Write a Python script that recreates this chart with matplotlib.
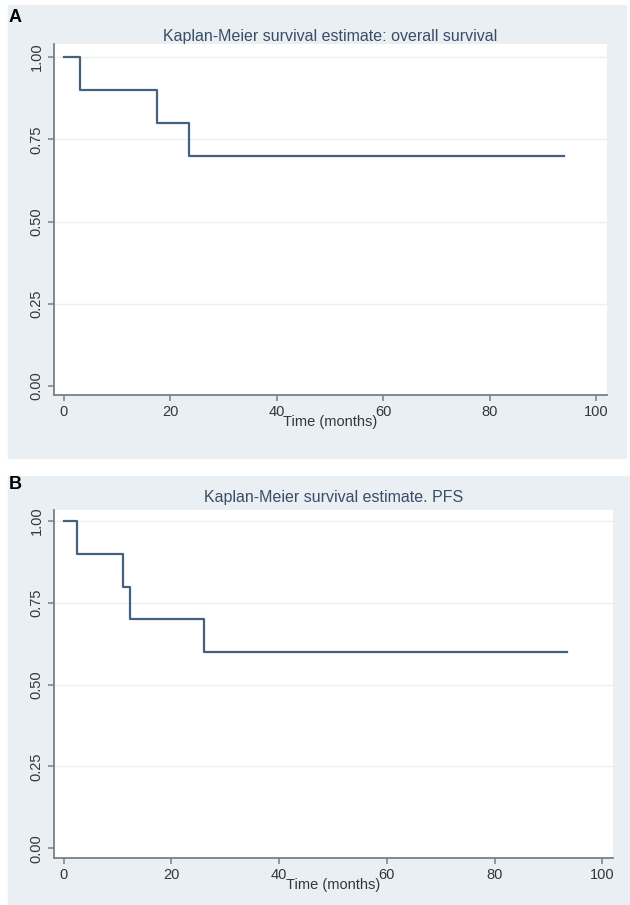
import matplotlib.pyplot as plt
from matplotlib.patches import Rectangle

# datos
os_time = [0, 3.0, 17.5, 23.5, 94.0]
os_surv = [1.0, 0.9, 0.8, 0.7, 0.7]

pfs_time = [0, 2.5, 11.0, 12.3, 26.0, 93.5]
pfs_surv = [1.0, 0.9, 0.8, 0.7, 0.6, 0.6]

x_ticks = [0, 20, 40, 60, 80, 100]
y_ticks = [0.0, 0.25, 0.5, 0.75, 1.0]
y_ticklabels = ["0.00", "0.25", "0.50", "0.75", "1.00"]

W, H = 630, 905
plt.rcParams['font.family'] = ['Liberation Sans', 'DejaVu Sans']

fig = plt.figure(figsize=(W / 100, H / 100), dpi=100)
fig.patch.set_facecolor('white')

panel_bg = '#e9eff2'
line_col = '#44627f'
spine_col = '#7a7f85'
text_col = '#33373c'
title_col = '#3a4d68'


def px_box(x0, y0, x1, y1):
    # caja en pixeles (origen arriba izquierda) -> coords de figura
    return [x0 / W, 1 - y1 / H, (x1 - x0) / W, (y1 - y0) / H]


# fondos de los paneles (detras de los ejes)
fig.patches.append(Rectangle((8 / W, 1 - 458 / H), 618 / W, 453 / H,
                             transform=fig.transFigure, color=panel_bg, zorder=-5))
fig.patches.append(Rectangle((8 / W, 0), 622 / W, 1 - 476 / H,
                             transform=fig.transFigure, color=panel_bg, zorder=-5))


def km_panel(box, times, surv, title, letter, letter_y, title_y, xlim, ylim):
    ax = fig.add_axes(px_box(*box))
    ax.set_facecolor('white')
    ax.step(times, surv, where='post', color=line_col, lw=1.6, zorder=3)
    ax.set_xlim(*xlim)
    ax.set_ylim(*ylim)
    ax.set_xticks(x_ticks)
    ax.set_yticks(y_ticks)
    ax.set_yticklabels(y_ticklabels, rotation=90, va='center')
    for y in y_ticks[1:]:
        ax.axhline(y, color='#eaf1f3', lw=1.0, zorder=1)
    for s in ['top', 'right']:
        ax.spines[s].set_visible(False)
    for s in ['left', 'bottom']:
        ax.spines[s].set_color(spine_col)
        ax.spines[s].set_linewidth(1.3)
    ax.tick_params(colors=spine_col, labelcolor=text_col, labelsize=10.5,
                   length=4, width=1.1)
    ax.set_xlabel("Time (months)", fontsize=10.5, color=text_col, labelpad=-3)
    fig.text((box[0] + box[2]) / 2 / W, 1 - title_y / H, title,
             ha='center', va='center', fontsize=11.5, color=title_col)
    fig.text(9 / W, 1 - letter_y / H, letter, ha='left', va='center',
             fontsize=13, fontweight='bold', color='black')
    return ax


km_panel((54, 44, 607, 395), os_time, os_surv,
         "Kaplan-Meier survival estimate: overall survival", "A", 18, 36,
         (-1.8, 102), (-0.027, 1.04))
km_panel((54, 510, 613, 858), pfs_time, pfs_surv,
         "Kaplan-Meier survival estimate. PFS", "B", 484, 497,
         (-1.8, 102), (-0.03, 1.034))

fig.savefig("out.png", dpi=100)
